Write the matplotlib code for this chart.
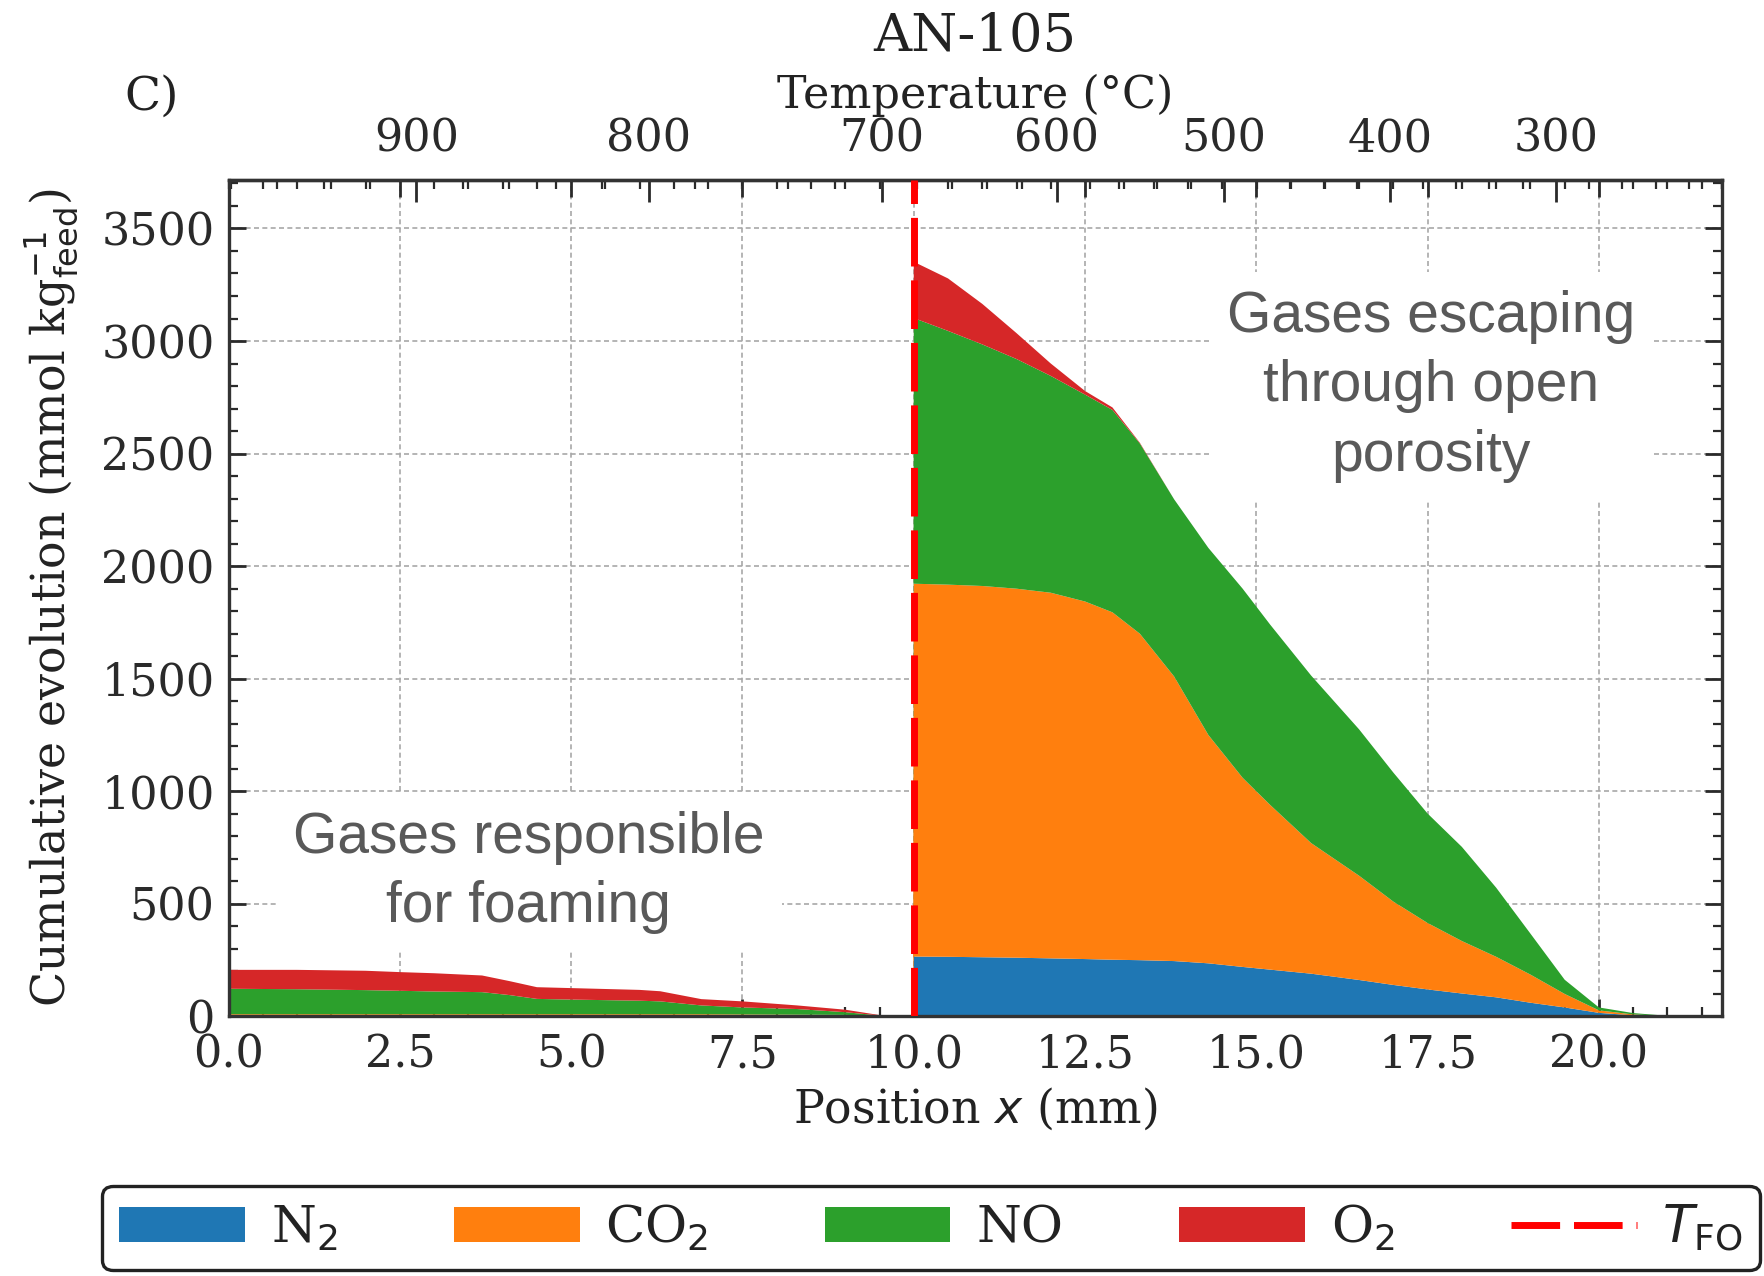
import matplotlib
matplotlib.use("Agg")
import matplotlib.pyplot as plt  # noqa: E402
import numpy as np  # noqa: E402
from matplotlib.lines import Line2D  # noqa: E402
from matplotlib.patches import Patch  # noqa: E402
from matplotlib.ticker import MultipleLocator  # noqa: E402

# --- data (AN-105 feed) ---
position_mm = [0.0, 1.0, 2.0, 2.5, 3.0, 3.7, 4.1, 4.5, 5.0, 6.0, 6.3, 6.9, 7.5, 8.3, 9.0, 9.6, 9.99,
               10.0, 10.5, 11.0, 11.5, 12.0, 12.5, 12.9, 13.3, 13.8, 14.3, 14.8, 15.2, 15.8,
               16.5, 17.0, 17.5, 18.0, 18.5, 19.0, 19.5, 20.0, 20.5, 21.0, 21.5]
n2 = [2, 2, 2, 2, 2, 2, 2, 2, 2, 2, 2, 2, 2, 2, 2, 0.5, 0,
      266, 265, 263, 261, 258, 255, 252, 250, 246, 236, 220, 208, 190,
      162, 140, 120, 102, 85, 61, 40, 16, 5, 1, 0]
co2 = [8, 8, 8, 8, 8, 8, 8, 8, 8, 8, 8, 8, 7, 6, 5, 1, 0,
       1656, 1653, 1649, 1639, 1624, 1588, 1543, 1450, 1264, 1014, 840, 732, 580,
       463, 370, 295, 233, 180, 125, 60, 11, 4, 1, 0]
no = [113, 111, 107, 104, 101, 98, 85, 68, 65, 60, 57, 39, 31, 25, 12, 0, 0,
      1180, 1127, 1073, 1020, 963, 919, 899, 845, 787, 831, 840, 801, 744,
      650, 573, 486, 418, 307, 182, 63, 13, 6, 1, 0]
o2 = [84, 86, 86, 83, 81, 74, 62, 52, 51, 48, 45, 28, 27, 16, 11, 0, 0,
      250, 233, 180, 115, 55, 16, 11, 3, 0, 0, 0, 0, 0,
      0, 0, 0, 0, 0, 0, 0, 0, 0, 0, 0]

species = ["N$_2$", "CO$_2$", "NO", "O$_2$"]
colors = ["#1f77b4", "#ff7f0e", "#2ca02c", "#d62728"]

# temperature profile along the sample (for the top axis)
profile_mm = [0.0, 2.74, 6.13, 9.53, 12.09, 14.53, 16.95, 19.37, 21.8]
profile_T = [981, 900, 800, 700, 600, 500, 400, 300, 200]
temp_ticks = [900, 800, 700, 600, 500, 400, 300]

foaming_onset_mm = 10.0

plt.rcParams["font.family"] = ["DejaVu Serif"]
plt.rcParams["text.color"] = "#222222"
plt.rcParams["axes.labelcolor"] = "#222222"
plt.rcParams["xtick.color"] = "#2a2a2a"
plt.rcParams["ytick.color"] = "#2a2a2a"

fig = plt.figure(figsize=(8.825, 6.38), dpi=200)
ax = fig.add_axes([0.1295, 0.2034, 0.8463, 0.6555])

ax.stackplot(position_mm, n2, co2, no, o2, colors=colors, linewidth=0, zorder=2)
ax.axvline(foaming_onset_mm, color="#ff0000", lw=2.5, dashes=(7, 2), zorder=3)

ax.set_xlim(0, 21.8)
ax.set_ylim(0, 3715)
ax.set_xticks(np.arange(0, 21, 2.5))
ax.set_yticks(np.arange(0, 3501, 500))
ax.xaxis.set_minor_locator(MultipleLocator(0.5))
ax.yaxis.set_minor_locator(MultipleLocator(100))
ax.tick_params(which="both", direction="in", top=True, right=True, labelsize=16)
ax.tick_params(which="major", length=6, width=1.0)
ax.tick_params(which="minor", length=3.2, width=0.8)
ax.tick_params(axis="x", pad=6)
ax.tick_params(axis="y", pad=5)
ax.grid(True, which="major", ls=(0, (3, 2)), color="#a8a8a8", lw=0.6)
ax.set_axisbelow(True)
for sp in ax.spines.values():
    sp.set_color("#333333")
    sp.set_linewidth(1.2)


def pos_to_temp(x):
    return np.interp(x, profile_mm, profile_T)


def temp_to_pos(t):
    return np.interp(t, profile_T[::-1], profile_mm[::-1])


secax = ax.secondary_xaxis("top", functions=(pos_to_temp, temp_to_pos))
secax.set_xticks(temp_ticks)
secax.xaxis.set_minor_locator(MultipleLocator(20))
secax.tick_params(which="both", direction="in", labelsize=16, pad=7)
secax.tick_params(which="major", length=8, width=1.0)
secax.tick_params(which="minor", length=3.2, width=0.8)
secax.spines["top"].set_color("#333333")
secax.spines["top"].set_linewidth(1.2)

ax.set_xlabel("Position $x$ (mm)", fontsize=16.5)
ax.xaxis.label.set_va("center")
ax.xaxis.set_label_coords(0.5, -0.1106)
ax.set_ylabel(r"Cumulative evolution (mmol kg$_{\rm feed}^{-1}$)", fontsize=16.5)
ax.yaxis.label.set_va("center")
ax.yaxis.set_label_coords(-0.1188, 0.5)

fig.text(975 / 1765, 1 - 95 / 1276, "Temperature (°C)", ha="center", va="center", fontsize=16)
fig.text(975 / 1765, 1 - 36 / 1276, "AN-105", ha="center", va="center", fontsize=19)
fig.text(152 / 1765, 1 - 97 / 1276, "C)", ha="center", va="center", fontsize=17)

note_style = dict(ha="center", va="center", fontsize=20.5, color="#595959",
                  family="Liberation Sans", linespacing=1.37, zorder=1.5,
                  bbox=dict(boxstyle="square,pad=0.3", fc="white", ec="none"))
ax.text(4.38, 640, "Gases responsible\nfor foaming", **note_style)
ax.text(17.55, 2800, "Gases escaping\nthrough open\nporosity", **note_style)

handles = [Patch(facecolor=c, edgecolor="none") for c in colors]
handles.append(Line2D([0], [0], color="#ff0000", lw=2.5, dashes=(7, 2)))
labels = species + [r"$T_{\rm FO}$"]
leg = fig.legend(handles, labels, loc="center", bbox_to_anchor=(0.058, 0.0, 0.939, 0.075),
                 mode="expand", ncol=5, fontsize=18.5, frameon=True, fancybox=True,
                 handlelength=2.45, handleheight=0.68, handletextpad=0.5, borderpad=0.33,
                 borderaxespad=0)
leg.get_frame().set_edgecolor("#222222")
leg.get_frame().set_linewidth(1.2)
leg.get_frame().set_alpha(1)

fig.savefig("out.png", dpi=200)
